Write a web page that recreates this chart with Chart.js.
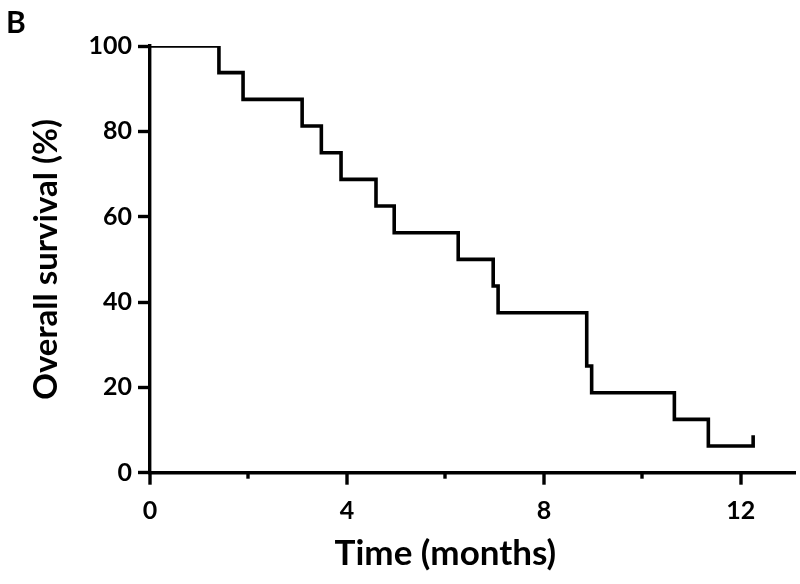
<!DOCTYPE html>
<html>
<head>
<meta charset="utf-8">
<script src="https://cdn.jsdelivr.net/npm/chart.js@4.4.1/dist/chart.umd.min.js"></script>
<style>
  html, body { margin: 0; padding: 0; background: #ffffff; }
  #wrap { width: 800px; height: 584px; position: relative; }
</style>
</head>
<body>
<div id="wrap"><canvas id="c" width="800" height="584"></canvas></div>
<script>
// Kaplan-Meier overall survival (time in months, survival in %)
const timeMonths = [0, 1.40, 1.89, 3.09, 3.48, 3.88, 4.59, 4.96, 6.26, 6.97, 7.07, 8.87, 8.97, 10.65, 11.34, 12.25, 12.25];
const survivalPct = [100, 93.75, 87.5, 81.25, 75, 68.75, 62.5, 56.25, 50, 43.75, 37.5, 25, 18.75, 12.5, 6.25, 6.25, 8.75];
const xMajorTicks = [0, 4, 8, 12];
const xMinorTicks = [2, 6, 10];
const yTicks = [0, 20, 40, 60, 80, 100];
const panelLabel = 'B';
const xTitle = 'Time (months)';
const yTitle = 'Overall survival (%)';

const FONT = 'Lato, "Open Sans", sans-serif';

const points = timeMonths.map((t, i) => ({ x: t, y: survivalPct[i] }));

const decor = {
  id: 'decor',
  afterDraw(chart) {
    const ctx = chart.ctx;
    const xs = chart.scales.x;
    const ys = chart.scales.y;
    const y0 = ys.getPixelForValue(0);
    ctx.save();
    ctx.strokeStyle = '#000';
    ctx.lineWidth = 3.4;
    ctx.lineCap = 'butt';
    xMajorTicks.forEach(v => {
      const px = Math.round(xs.getPixelForValue(v));
      ctx.beginPath(); ctx.moveTo(px, y0); ctx.lineTo(px, y0 + 12); ctx.stroke();
    });
    xMinorTicks.forEach(v => {
      const px = Math.round(xs.getPixelForValue(v));
      ctx.beginPath(); ctx.moveTo(px, y0); ctx.lineTo(px, y0 + 6); ctx.stroke();
    });
    // x title centred under the 0-12 span
    ctx.fillStyle = '#000';
    ctx.font = 'bold 35px ' + FONT;
    ctx.textAlign = 'center';
    ctx.textBaseline = 'middle';
    const cx = (xs.getPixelForValue(xMajorTicks[0]) + xs.getPixelForValue(xMajorTicks[xMajorTicks.length - 1])) / 2;
    ctx.fillText(xTitle, cx, 554);
    // panel label
    ctx.font = 'bold 30px ' + FONT;
    ctx.textAlign = 'left';
    ctx.textBaseline = 'alphabetic';
    ctx.fillText(panelLabel, 6, 33);
    ctx.restore();
  }
};

new Chart(document.getElementById('c'), {
  type: 'line',
  data: {
    datasets: [{
      data: points,
      stepped: 'before',
      borderColor: '#000',
      borderWidth: 3.6,
      pointRadius: 0,
      fill: false,
      tension: 0,
      borderJoinStyle: 'miter',
      borderCapStyle: 'butt'
    }]
  },
  options: {
    responsive: false,
    animation: false,
    devicePixelRatio: 1,
    layout: { padding: { left: 0, top: 46, right: 5, bottom: 0 } },
    plugins: { legend: { display: false }, tooltip: { enabled: false } },
    scales: {
      x: {
        type: 'linear',
        min: 0,
        max: 13.1,
        afterBuildTicks: s => { s.ticks = xMajorTicks.map(v => ({ value: v })); },
        afterFit: s => { s.height = 584 - 46 - 426.7; },
        grid: { display: false, drawTicks: false },
        border: { display: true, color: '#000', width: 3.4 },
        ticks: {
          color: '#000',
          font: { family: FONT, size: 25, weight: 'bold' },
          padding: 23,
          maxRotation: 0,
          autoSkip: false
        }
      },
      y: {
        type: 'linear',
        min: 0,
        max: 100,
        afterBuildTicks: s => { s.ticks = yTicks.map(v => ({ value: v })); },
        afterFit: s => { s.width = 150; },
        grid: { display: true, drawOnChartArea: false, drawTicks: true, tickLength: 12, tickWidth: 3.4, color: '#000' },
        border: { display: true, color: '#000', width: 3.4 },
        ticks: {
          color: '#000',
          font: { family: FONT, size: 25, weight: 'bold' },
          padding: 6
        },
        title: {
          display: true,
          text: yTitle,
          color: '#000',
          font: { family: FONT, size: 33, weight: 'bold' },
          padding: { top: 27, bottom: 0 }
        }
      }
    }
  },
  plugins: [decor]
});
</script>
</body>
</html>
